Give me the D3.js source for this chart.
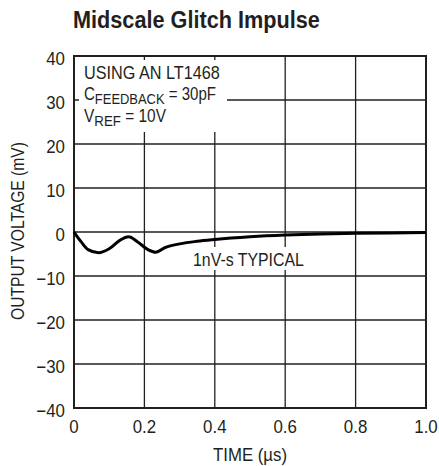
<!DOCTYPE html>
<html><head><meta charset="utf-8">
<script src="https://cdn.jsdelivr.net/npm/d3@7"></script>
<style>
body{margin:0;background:#fff;}
text{font-family:"Liberation Sans",Arial,sans-serif;fill:#231f20;}
</style></head>
<body>
<svg id="c" width="439" height="466"></svg>
<script>
const timeUs = [0, 0.02, 0.04, 0.07, 0.10, 0.13, 0.155, 0.18, 0.21, 0.232, 0.26, 0.30, 0.35, 0.40, 0.50, 0.60, 0.70, 0.80, 0.90, 1.0];
const outputMv = [0, -2.2, -4.0, -4.7, -3.8, -1.9, -1.1, -2.2, -4.0, -4.6, -3.5, -2.7, -2.1, -1.7, -1.1, -0.7, -0.45, -0.3, -0.2, -0.1];
const xTicks = [0, 0.2, 0.4, 0.6, 0.8, 1.0];
const xTickLabels = ["0", "0.2", "0.4", "0.6", "0.8", "1.0"];
const yTicks = [40, 30, 20, 10, 0, -10, -20, -30, -40];
const yTickLabels = ["40", "30", "20", "10", "0", "\u221210", "\u221220", "\u221230", "\u221240"];

const svg = d3.select("#c");
const L = 74, R = 426, T = 56, B = 408;
const x = d3.scaleLinear().domain([0, 1]).range([L, R]);
const y = d3.scaleLinear().domain([-40, 40]).range([B, T]);

// condensed text helper: width-fit a text by horizontal scaling
function ctext(px, py, size, anchor, rot) {
  const g = svg.append("g").attr("data-base", `translate(${px},${py})` + (rot ? ` rotate(${rot})` : ""));
  g.attr("transform", g.attr("data-base"));
  return g.append("text").attr("font-size", size).attr("text-anchor", anchor || "start");
}
function fit(t, width) {
  const w = t.node().getBBox().width;
  const s = width / w;
  const g = d3.select(t.node().parentNode);
  g.attr("transform", g.attr("data-base") + ` scale(${s},1)`);
  return s;
}
function scaleBy(t, s) {
  const g = d3.select(t.node().parentNode);
  g.attr("transform", g.attr("data-base") + ` scale(${s},1)`);
}

// grid
svg.append("g").selectAll("line").data(xTicks.slice(1, -1)).join("line")
  .attr("x1", d => x(d)).attr("x2", d => x(d)).attr("y1", T).attr("y2", B)
  .attr("stroke", "#231f20").attr("stroke-width", 1.3);
svg.append("g").selectAll("line").data(yTicks.slice(1, -1)).join("line")
  .attr("x1", L).attr("x2", R).attr("y1", d => y(d)).attr("y2", d => y(d))
  .attr("stroke", "#231f20").attr("stroke-width", 1.3);

// white label backgrounds
svg.append("rect").attr("x", L + 5).attr("y", T + 4).attr("width", 148).attr("height", 72).attr("fill", "#fff");
svg.append("rect").attr("x", 190).attr("y", 247).attr("width", 120).attr("height", 23).attr("fill", "#fff");

// frame
svg.append("rect").attr("x", L).attr("y", T).attr("width", R - L).attr("height", B - T)
  .attr("fill", "none").attr("stroke", "#231f20").attr("stroke-width", 2);

// curve
svg.append("path").datum(timeUs.map((t, i) => [t, outputMv[i]]))
  .attr("d", d3.line().x(d => x(d[0])).y(d => y(d[1])).curve(d3.curveMonotoneX))
  .attr("fill", "none").attr("stroke", "#000").attr("stroke-width", 3).attr("stroke-linejoin", "round");

// tick labels
const xt = xTicks.map((d, i) => ctext(x(d), 433, 18, "middle").text(xTickLabels[i]));
const tickScale = fit(xt[4], 23.5);
xt.forEach(t => scaleBy(t, tickScale));
yTicks.forEach((d, i) => scaleBy(ctext(65, y(d) + 9, 18, "end").text(yTickLabels[i]), tickScale));

// axis titles
fit(ctext(250, 461, 18, "middle").text("TIME (\u00b5s)"), 74);
fit(ctext(24, 231, 18, "middle", -90).text("OUTPUT VOLTAGE (mV)"), 178);

// title
fit(ctext(73, 28, 23.5, "start").attr("font-weight", "bold").text("Midscale Glitch Impulse"), 247);

// annotations
fit(ctext(84, 79, 18).text("USING AN LT1468"), 136);
const c = ctext(84, 100, 18);
c.append("tspan").text("C");
c.append("tspan").attr("dy", 4).attr("font-size", 15.5).text("FEEDBACK");
c.append("tspan").attr("dy", -4).text(" = 30pF");
fit(c, 132);
const v = ctext(84, 121.5, 18);
v.append("tspan").text("V");
v.append("tspan").attr("dy", 4).attr("font-size", 15.5).text("REF");
v.append("tspan").attr("dy", -4).text(" = 10V");
fit(v, 82);
fit(ctext(193, 266, 18).text("1nV-s TYPICAL"), 111);
</script>
</body></html>
